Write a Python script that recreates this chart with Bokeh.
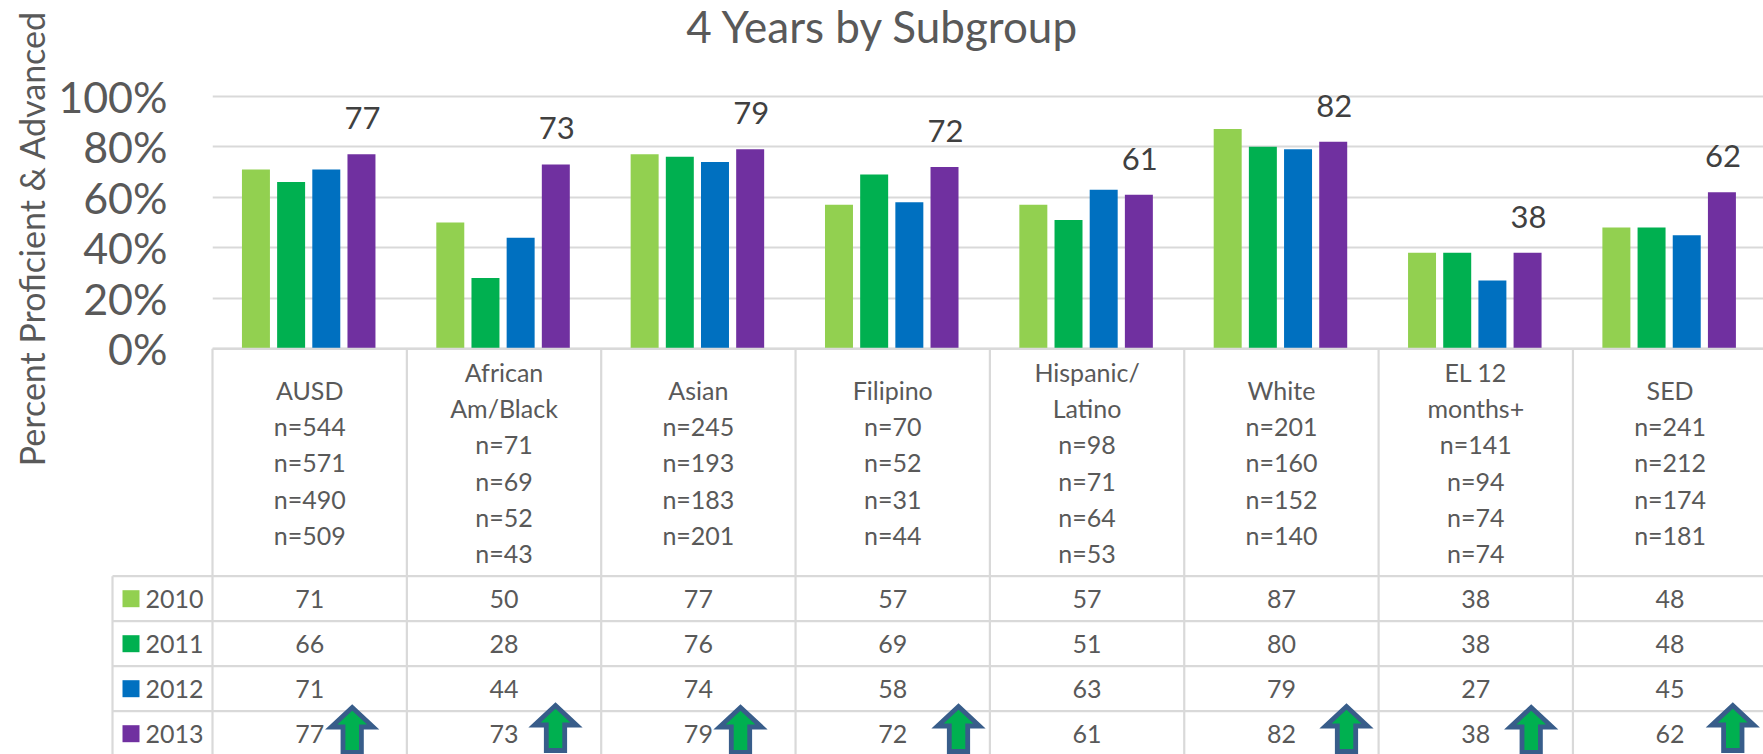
from bokeh.plotting import figure
from bokeh.models import Range1d, FixedTicker
from bokeh.core.properties import value
from bokeh.embed import file_html
from bokeh.resources import INLINE

title = "4 Years by Subgroup"
ylabel = "Percent Proficient & Advanced"
categories = ["AUSD", "African\nAm/Black", "Asian", "Filipino", "Hispanic/\nLatino", "White", "EL 12\nmonths+", "SED"]
years = ["2010", "2011", "2012", "2013"]
v2010 = [71, 50, 77, 57, 57, 87, 38, 48]
v2011 = [66, 28, 76, 69, 51, 80, 38, 48]
v2012 = [71, 44, 74, 58, 63, 79, 27, 45]
v2013 = [77, 73, 79, 72, 61, 82, 38, 62]
n2010 = [544, 71, 245, 70, 98, 201, 141, 241]
n2011 = [571, 69, 193, 52, 71, 160, 94, 212]
n2012 = [490, 52, 183, 31, 64, 152, 74, 174]
n2013 = [509, 43, 201, 44, 53, 140, 74, 181]
colors = ["#92D050", "#00B050", "#0070C0", "#7030A0"]
yticks = [0, 20, 40, 60, 80, 100]
improved = [True, True, True, True, False, True, True, True]

# layout
FONT = "Lato"
GREY = "#595959"
LINE = "#D9D9D9"
W, H = 1763, 754
ML = 212
PX_X = 194.35           # px per category
PX_Y = 2.526            # px per percentage point
Y0 = 348.3              # page y of 0%
HDR = (575.7 - Y0) / PX_Y
ROW = 45.0 / PX_Y
LEGL = -(212 - 112) / PX_X
BAR_SHIFT = -0.005

def dx(px): return px / PX_X
def dy(px): return px / PX_Y

p = figure(width=W, height=H, output_backend="svg", toolbar_location=None,
           x_range=Range1d(0, (W - ML) / PX_X),
           y_range=Range1d(-(H - Y0) / PX_Y, Y0 / PX_Y),
           min_border_left=ML, min_border_top=0, min_border_right=0, min_border_bottom=0,
           outline_line_color=None, background_fill_color=None)
p.xaxis.visible = False
p.xgrid.visible = False
g = p.ygrid[0]
g.ticker = FixedTicker(ticks=yticks)
g.grid_line_color = LINE
g.grid_line_width = 2
ax = p.yaxis[0]
ax.ticker = FixedTicker(ticks=yticks)
ax.major_label_overrides = {t: f"{t}%" for t in yticks}
ax.axis_line_color = None
ax.major_tick_line_color = None
ax.minor_tick_line_color = None
ax.major_tick_out = 0
ax.major_tick_in = 0
ax.major_label_standoff = 45
ax.major_label_text_font = FONT
ax.major_label_text_font_size = "43px"
ax.major_label_text_color = GREY

# title
p.text(x=[dx(882.6 - 212)], y=[dy(Y0 - 25)], text=[title], text_font=value(FONT), text_font_size="44px",
       text_color=GREY, text_align="center", text_baseline="middle", level="overlay")

# bars
xs = list(range(8))
series = [v2010, v2011, v2012, v2013]
for i, vals in enumerate(series):
    off = (i - 1.5) * 0.181 + BAR_SHIFT
    p.vbar(x=[x + 0.5 + off for x in xs], top=vals, bottom=0, width=0.144,
           fill_color=colors[i], line_color=None)

# labels above the last series
p.text(x=[x + 0.5 + 1.5 * 0.181 for x in xs], y=v2013, text=[str(v) for v in v2013],
       text_font=value(FONT), text_font_size="31px", text_color="#404040",
       text_align="center", text_baseline="bottom", y_offset=-25, level="overlay")

# table lines
bottom = -(HDR + 4.1 * ROW)
p.segment(x0=xs + [8], y0=[0] * 9, x1=xs + [8], y1=[bottom] * 9, line_color=LINE, line_width=2.2, level="overlay")
p.segment(x0=[0], y0=[0], x1=[8], y1=[0], line_color=LINE, line_width=2.2, level="overlay")
p.segment(x0=[LEGL], y0=[-HDR], x1=[LEGL], y1=[bottom], line_color=LINE, line_width=2.2, level="overlay")
p.segment(x0=[LEGL] * 4, y0=[-(HDR + r * ROW) for r in range(4)], x1=[8] * 4,
          y1=[-(HDR + r * ROW) for r in range(4)], line_color=LINE, line_width=2.2, level="overlay")

# header cells
cells = [f"{c}\nn={a}\nn={b}\nn={d}\nn={e}" for c, a, b, d, e in zip(categories, n2010, n2011, n2012, n2013)]
p.text(x=[x + 0.5 for x in xs], y=[-HDR / 2] * 8, text=cells, text_font=value(FONT), text_font_size="25px",
       text_color=GREY, text_align="center", text_baseline="middle", text_line_height=1.21, level="overlay")

# data rows + key
for r, vals in enumerate(series):
    yc = -(HDR + (r + 0.5) * ROW)
    p.text(x=[x + 0.5 for x in xs], y=[yc] * 8, text=[str(v) for v in vals], text_font=value(FONT),
           text_font_size="25px", text_color=GREY, text_align="center", text_baseline="middle", level="overlay")
    p.quad(left=[LEGL + dx(10)], right=[LEGL + dx(27)], top=[yc + dy(8.5)], bottom=[yc - dy(8.5)],
           fill_color=colors[r], line_color=None, level="overlay")
    p.text(x=[LEGL + dx(33)], y=[yc], text=[years[r]], text_font=value(FONT), text_font_size="25px",
           text_color=GREY, text_align="left", text_baseline="middle", level="overlay")

# arrows
arrow_px = [351.7, 555, 740, 958, 0, 1346, 1530.7, 1732.3]
tip_px = [707, 705, 707, 706, 0, 706, 707, 705]
pxs, pys = [], []
for k, show in enumerate(improved):
    if not show:
        continue
    cx, ty = arrow_px[k], tip_px[k]
    shape = [(0, 0), (21, 19.5), (9.2, 19.5), (9.2, 45), (-9.2, 45), (-9.2, 19.5), (-21, 19.5)]
    pxs.append([dx(cx + a - 212) for a, b in shape])
    pys.append([-dy(ty + b - Y0) for a, b in shape])
p.patches(xs=pxs, ys=pys, fill_color="#00B050", line_color="#385D8A", line_width=4.8, line_join="miter", level="overlay")

# rotated axis title
p.text(x=[dx(31 - 212)], y=[dy(Y0 - 238)], text=[ylabel], angle=[90], angle_units="deg", text_font=value(FONT),
       text_font_size="34px", text_color=GREY, text_align="center", text_baseline="middle", level="overlay")

open("out.html", "w").write(file_html(p, INLINE))
